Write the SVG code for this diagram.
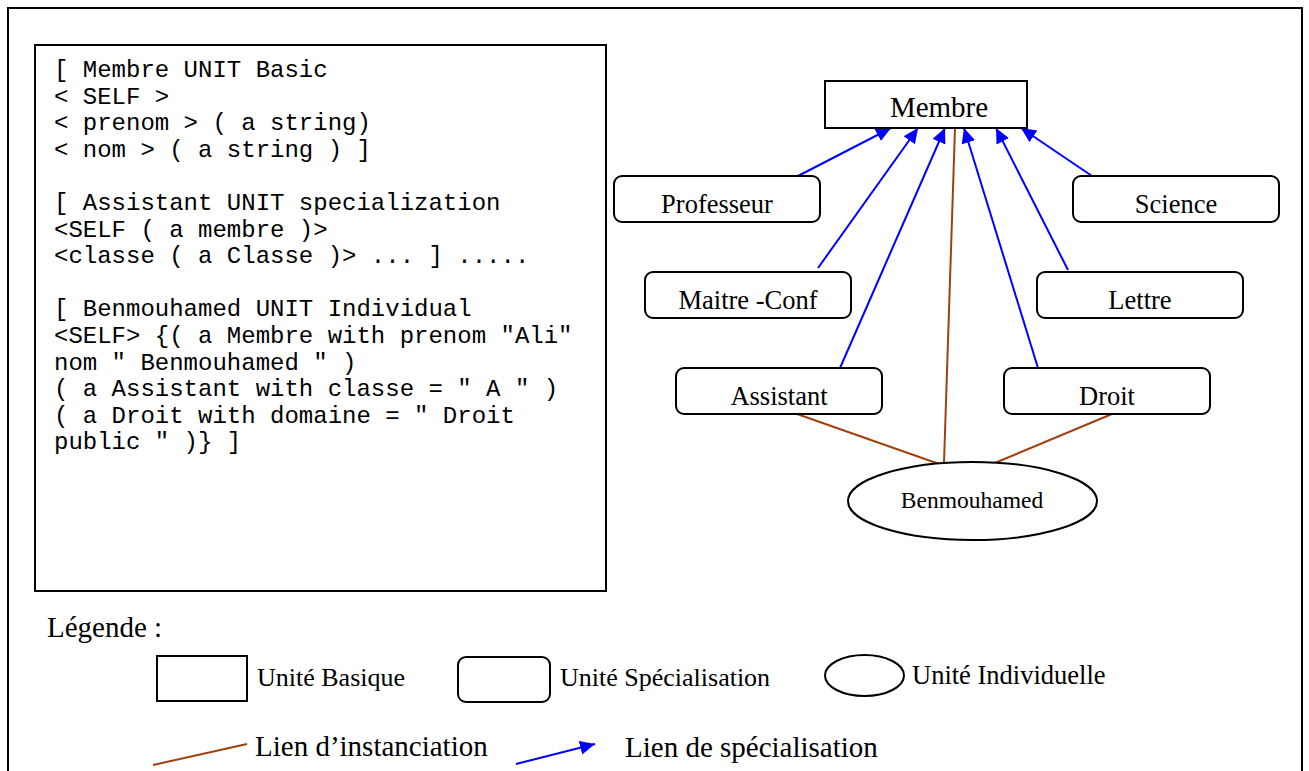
<svg xmlns="http://www.w3.org/2000/svg" width="1309" height="771" viewBox="0 0 1309 771">
  <style>
    .frame { fill: none; stroke: #000; stroke-width: 2; }
    .box { fill: #fff; stroke: #000; stroke-width: 2; }
    .code { font-family: "Liberation Mono", "Courier New", monospace; font-size: 24px; fill: #000; }
    .lbl { font-family: "Liberation Serif", "Times New Roman", serif; font-size: 26.5px; fill: #000; text-anchor: middle; }
    .leg { font-family: "Liberation Serif", "Times New Roman", serif; font-size: 26px; fill: #000; }
    .legbig { font-family: "Liberation Serif", "Times New Roman", serif; font-size: 29px; fill: #000; }
    .spec { stroke: #0000ff; stroke-width: 2; fill: none; }
    .inst { stroke: #a0410d; stroke-width: 2; fill: none; }
  </style>
  <defs>
    <marker id="arrow" markerUnits="userSpaceOnUse" markerWidth="17" markerHeight="15" refX="15" refY="7" orient="auto">
      <path d="M0,0 L15,7 L0,14 Z" fill="#0000ff"/>
    </marker>
  </defs>

  <rect width="1309" height="771" fill="#fff"/>
  <!-- page frame -->
  <rect class="frame" x="8" y="8" width="1294" height="800"/>

  <!-- unit definitions listing -->
  <g id="code-listing">
    <rect class="frame" x="35" y="45" width="571" height="546"/>
    <text class="code" x="54" y="77">[ Membre UNIT Basic</text>
    <text class="code" x="54" y="103.6">&lt; SELF &gt;</text>
    <text class="code" x="54" y="130.2">&lt; prenom &gt; ( a string)</text>
    <text class="code" x="54" y="156.8">&lt; nom &gt; ( a string ) ]</text>
    <text class="code" x="54" y="210">[ Assistant UNIT specialization</text>
    <text class="code" x="54" y="236.6">&lt;SELF ( a membre )&gt;</text>
    <text class="code" x="54" y="263.2">&lt;classe ( a Classe )&gt; ... ] .....</text>
    <text class="code" x="54" y="316.4">[ Benmouhamed UNIT Individual</text>
    <text class="code" x="54" y="343">&lt;SELF&gt; {( a Membre with prenom "Ali"</text>
    <text class="code" x="54" y="369.6">nom " Benmouhamed " )</text>
    <text class="code" x="54" y="396.2">( a Assistant with classe = " A " )</text>
    <text class="code" x="54" y="422.8">( a Droit with domaine = " Droit</text>
    <text class="code" x="54" y="449.4">public " )} ]</text>
  </g>

  <!-- links -->
  <g id="connectors">
    <line class="spec" x1="798" y1="176" x2="891" y2="128" marker-end="url(#arrow)"/>
    <line class="spec" x1="818" y1="268" x2="918" y2="128" marker-end="url(#arrow)"/>
    <line class="spec" x1="840" y1="368" x2="945" y2="128" marker-end="url(#arrow)"/>
    <line class="spec" x1="1038" y1="368" x2="964" y2="128" marker-end="url(#arrow)"/>
    <line class="spec" x1="1068" y1="270" x2="996" y2="128" marker-end="url(#arrow)"/>
    <line class="spec" x1="1092" y1="176" x2="1021" y2="128" marker-end="url(#arrow)"/>
    <line class="inst" x1="955" y1="128" x2="944" y2="463"/>
    <line class="inst" x1="797" y1="414" x2="942" y2="465"/>
    <line class="inst" x1="1112" y1="414" x2="990" y2="465"/>
  </g>

  <!-- units -->
  <g id="node-membre">
    <rect class="box" x="825" y="81" width="202" height="47"/>
    <text class="lbl" x="939" y="116.5" style="font-size:29px">Membre</text>
  </g>
  <g id="node-professeur">
    <rect class="box" x="614" y="176" width="206" height="46" rx="8"/>
    <text class="lbl" x="717" y="213">Professeur</text>
  </g>
  <g id="node-science">
    <rect class="box" x="1073" y="176" width="206" height="46" rx="8"/>
    <text class="lbl" x="1176" y="213">Science</text>
  </g>
  <g id="node-maitre-conf">
    <rect class="box" x="645" y="272" width="206" height="46" rx="8"/>
    <text class="lbl" x="748" y="309">Maitre -Conf</text>
  </g>
  <g id="node-lettre">
    <rect class="box" x="1037" y="272" width="206" height="46" rx="8"/>
    <text class="lbl" x="1140" y="309">Lettre</text>
  </g>
  <g id="node-assistant">
    <rect class="box" x="676" y="368" width="206" height="46" rx="8"/>
    <text class="lbl" x="779" y="405">Assistant</text>
  </g>
  <g id="node-droit">
    <rect class="box" x="1004" y="368" width="206" height="46" rx="8"/>
    <text class="lbl" x="1107" y="405">Droit</text>
  </g>
  <g id="node-benmouhamed">
    <ellipse class="box" cx="972.5" cy="501" rx="124.5" ry="39"/>
    <text class="lbl" x="972" y="508" style="font-size:23.5px">Benmouhamed</text>
  </g>

  <!-- key -->
  <g id="legend">
    <text class="legbig" x="47" y="637">Légende :</text>
    <rect class="box" x="157" y="656" width="90" height="45"/>
    <text class="leg" x="257" y="686">Unité Basique</text>
    <rect class="box" x="458" y="657" width="92" height="45" rx="8"/>
    <text class="leg" x="560" y="686">Unité Spécialisation</text>
    <ellipse class="box" cx="864.5" cy="675.5" rx="39.5" ry="20.5"/>
    <text class="leg" x="912" y="684" style="font-size:26.5px">Unité Individuelle</text>
    <line class="inst" x1="153" y1="765" x2="247" y2="744"/>
    <text class="legbig" x="255" y="756">Lien d’instanciation</text>
    <line class="spec" x1="516" y1="764" x2="595" y2="744" marker-end="url(#arrow)"/>
    <text class="legbig" x="625" y="757">Lien de spécialisation</text>
  </g>
</svg>
